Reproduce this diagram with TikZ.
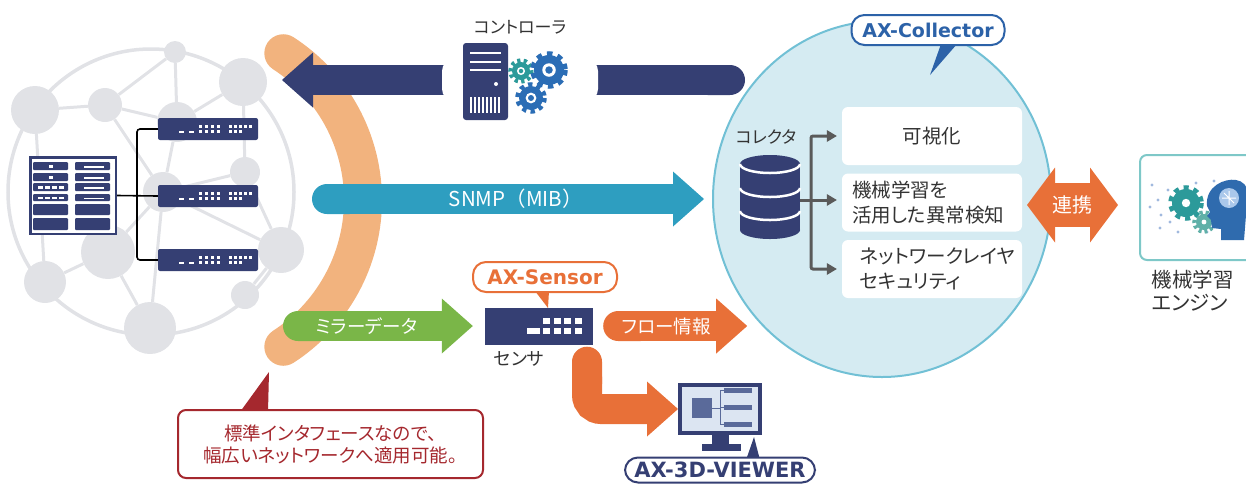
\documentclass[tikz,border=0pt]{standalone}
\usepackage{fontspec}
\setmainfont{Noto Sans CJK JP}[RawFeature=+palt]
\newfontfamily\fullwidth{Noto Sans CJK JP}
\newfontfamily\labelfont{DejaVu Sans}
\usepackage{tikz}
\usetikzlibrary{positioning,arrows.meta,shapes.geometric}

\definecolor{navy}{RGB}{53,63,115}
\definecolor{peach}{RGB}{242,179,126}
\definecolor{snmpblue}{RGB}{46,158,192}
\definecolor{mirrorgreen}{RGB}{122,182,72}
\definecolor{floworange}{RGB}{232,112,56}
\definecolor{collfill}{RGB}{213,235,242}
\definecolor{colledge}{RGB}{113,192,213}
\definecolor{axblue}{RGB}{44,98,168}
\definecolor{noticered}{RGB}{165,40,46}
\definecolor{globegray}{RGB}{225,226,230}
\definecolor{darktext}{RGB}{51,51,51}
\definecolor{wiregray}{RGB}{90,90,90}
\definecolor{gearteal}{RGB}{44,154,154}
\definecolor{gearblue}{RGB}{43,109,181}
\definecolor{gearpale}{RGB}{96,176,168}
\definecolor{enginecol}{RGB}{126,200,200}
\definecolor{screenblue}{RGB}{220,229,242}
\definecolor{minigray}{RGB}{90,106,154}
\definecolor{dotblue}{RGB}{160,185,222}
\definecolor{headblue}{RGB}{47,107,174}
\definecolor{headlight}{RGB}{170,200,235}

\newcommand{\fsz}[2]{\fontsize{#1}{#2}\selectfont}

\begin{document}
\begin{tikzpicture}[x=1pt,y=-1pt,
    blockarrow/.style={line width=30pt,{Round Cap[]}-{Triangle[width=55pt 0,length=31pt 0,line width=0pt 0]}},
    linkarrow/.style={line width=44pt,{Triangle[width=75pt 0,length=28pt 0,line width=0pt 0]}-{Triangle[width=75pt 0,length=28pt 0,line width=0pt 0]}},
    arrowtext/.style={text=white,font=\fsz{18.5}{20}},
    pill/.style={draw=#1,text=#1,fill=white,line width=2pt,rounded corners=13pt,inner sep=0pt},
    infobox/.style={fill=white,rounded corners=6pt,minimum width=180pt,minimum height=58pt,text=darktext,font=\fsz{19.5}{25}},
    dbwire/.style={wiregray,line width=3pt,rounded corners=2pt,shorten >=5pt,-{Triangle[length=10pt 0,width=12pt 0,line width=0pt 0]}},
    wire/.style={draw=black,line width=1.6pt,rounded corners=3pt},
    globenode/.style={circle,fill=globegray,inner sep=0pt},
    switchbox/.style={fill=navy,rounded corners=2pt,minimum width=100pt,minimum height=22pt,inner sep=0pt},
]
\clip (0,0) rectangle (1246,491);

\node[circle,draw=globegray,line width=3.5pt,minimum size=286pt,inner sep=0pt] (globe) at (151,192) {};
\foreach \n/\gx/\gy/\gr in {a/175/52/11,b/243/82/24,c/35/110/24,d/105/105/17,e/177/122/20,f/245/172/15,
        g/163/192/20,h/108/252/27,i/281/250/23,j/45/282/21,k/245/295/14,l/150/328/26}
    \node[globenode,minimum size=2*\gr] (\n) at (\gx,\gy) {};
\foreach \p/\q in {a/d,a/e,c/d,d/e,b/e,b/f,d/g,c/j,e/g,g/f,f/i,g/i,g/h,g/l,h/j,h/l,i/k}
    \draw[globegray,line width=3pt] (\p) -- (\q);

\node[fill=navy,minimum width=88pt,minimum height=79pt,inner sep=0pt] (rack) at (73,195.5) {};
\fill[white] (31.5,158.5) rectangle (114.5,232.5);
\foreach \sy/\sh in {162/8,173/8,183/8,194/7,204/11,218/12} {
    \fill[navy,rounded corners=1pt] (33,\sy) rectangle ++(35,\sh);
    \fill[navy,rounded corners=1pt] (75,\sy) rectangle ++(35,\sh);
}
\foreach \sy in {165,176} \fill[white] (49,\sy) rectangle ++(4,2.5);
\foreach \sy in {186,196.5} \foreach \mx in {38,45,52,59} \fill[white] (\mx,\sy) rectangle ++(5,2.5);
\foreach \sy in {166,177,187,197.5} \fill[white] (84,\sy) rectangle ++(20,1.5);

\foreach \n/\sy in {1/129,2/196,3/260} {
    \node[switchbox] (sw\n) at (208,\sy) {};
    \begin{scope}[shift={(208,\sy)}]
        \foreach \px in {-8,-2,4,10,22,27,32,37,42} \fill[white] (\px-1.5,-4.5) rectangle ++(3,3);
        \foreach \px in {-8,-2,4,10,22,27,32} \fill[white] (\px-1.5,1) rectangle ++(3,3);
        \foreach \px in {-29,-19} \fill[white] (\px,1.5) rectangle ++(5,2);
    \end{scope}
}
\coordinate (hub) at (137,196);
\draw[wire] (rack.east) -- (sw2.west);
\draw[wire] (sw1.west) -| (hub) |- (sw3.west);

\draw[peach,line width=38pt,line cap=round] (188,200) ++(-57:175) arc[start angle=-57,end angle=57,radius=175];

\node[ellipse,draw=colledge,fill=collfill,line width=2pt,minimum width=338pt,minimum height=356pt,inner sep=0pt] (collector) at (882,199) {};
\fill[axblue] (941,44) -- (957,44) -- (930,75) -- cycle;
\node[pill=axblue,minimum width=153pt,minimum height=30pt,font=\labelfont\bfseries\fsz{19}{19}] (axcoll) at (928,30) {AX-Collector};

\coordinate (ctrlend) at (745,80);
\coordinate (ctrltip) at (282,80);
\draw[blockarrow,navy] (ctrlend) -- (ctrltip);
\node[fill=white,rounded corners=12pt,minimum width=156pt,minimum height=42pt] (ctrl) at (520,80) {};
\node[text=darktext,font=\fsz{17}{18}] (ctrllbl) at (520,27) {コントローラ};
\fill[navy,rounded corners=3pt] (463,43) rectangle (508,120);
\foreach \ly in {53,61.5,70} \draw[white,line width=2pt] (470,\ly) -- (501,\ly);
\fill[white] (496,84) circle[radius=2];
\foreach \lx in {471,475,479,483,487,491,495,499} \draw[white,line width=1.5pt] (\lx,97) -- (\lx,113);
\foreach \gx/\gy/\gr/\gc in {521/71/9/gearteal,531/98/12/gearblue,549/70/15/gearblue} {
    \pgfmathsetmacro\tooth{0.36*\gr}
    \fill[\gc] (\gx,\gy) circle[radius=\gr];
    \draw[\gc,line width=4.5pt,dash pattern={on \tooth pt off \tooth pt}] (\gx,\gy) circle[radius=\gr+1.5];
    \fill[white] (\gx,\gy) circle[radius=0.45*\gr];
    \fill[\gc] (\gx,\gy) circle[radius=0.25*\gr];
}

\coordinate (snmpstart) at (312,199);
\draw[blockarrow,snmpblue] (snmpstart) -- ([xshift=-8pt]collector.west)
    node[pos=.52,text=white,font=\fullwidth\fsz{20.5}{22}] {SNMP（MIB）};

\node[text=darktext,font=\fsz{17}{18}] (colllbl) at (766,137) {コレクタ};
\node[inner sep=0pt,minimum width=60pt,minimum height=84pt] (db) at (770,200) {};
\fill[navy] (740,164) rectangle (800,230);
\fill[navy] (770,164) ellipse[x radius=30,y radius=9];
\fill[navy] (770,230) ellipse[x radius=30,y radius=9];
\foreach \ry in {164,188,211} \draw[white,line width=2.5pt] (740,\ry) arc[start angle=180,end angle=0,x radius=30,y radius=9];

\node[infobox] (vis) at (932,136) {可視化};
\node[infobox,align=left,text width=160pt,inner xsep=10pt] (anom) at (932,202.5) {機械学習を\\活用した異常検知};
\node[infobox,align=left,text width=144pt,inner xsep=18pt] (nwsec) at (932,269) {ネットワークレイヤ\\セキュリティ};
\coordinate (dbhub) at (811,200);
\draw[dbwire] (db.east) -- (db.east -| anom.west);
\draw[dbwire] (dbhub) |- (vis.west);
\draw[dbwire] (dbhub) |- (nwsec.west);

\node[draw=enginecol,line width=2pt,fill=white,rounded corners=7pt,minimum width=130pt,minimum height=105pt] (engine) at (1205,207.5) {};
\coordinate (linkl) at (1027,205);
\coordinate (linkr) at (1118,205);
\draw[linkarrow,floworange] (linkl) -- (linkr) node[midway,text=white,font=\fsz{20}{22}] {連携};
\foreach \dx/\dy in {1152/185,1158/200,1161/215,1150/207,1168/190,1170/222,1196/183,1207/232,1214/181,1178/232,1160/228}
    \fill[dotblue] (\dx,\dy) circle[radius=1.6];
\foreach \gx/\gy/\gr/\gc in {1204/222/8/gearpale,1186/203/14/gearteal} {
    \pgfmathsetmacro\tooth{0.36*\gr}
    \fill[\gc] (\gx,\gy) circle[radius=\gr];
    \draw[\gc,line width=4.5pt,dash pattern={on \tooth pt off \tooth pt}] (\gx,\gy) circle[radius=\gr+1.5];
    \fill[white] (\gx,\gy) circle[radius=0.3*\gr];
}
\fill[headblue] (1221,240) -- (1221,229) -- (1212,228) -- (1211,220) -- (1207,216) -- (1210,212) -- (1207,206)
    .. controls (1205,186) and (1225,178) .. (1236,180) .. controls (1250,182) and (1252,200) .. (1246,215) -- (1244,240) -- cycle;
\fill[headlight] (1229,198) circle[radius=10];
\draw[white,line width=1pt] (1222,198) -- (1236,198) (1229,191) -- (1229,205) (1224,193) -- (1234,203);
\node[anchor=north west,align=left,text=darktext,font=\fsz{20.5}{23}] (englbl) at (1148,267) {機械学習\\エンジン};

\node[fill=navy,minimum width=108pt,minimum height=37pt,inner sep=0pt] (sensor) at (539,326) {};
\fill[white] (527,328) rectangle (540,334);
\foreach \px in {543,553.5,564,574.5} \foreach \py in {318,328} \fill[white] (\px,\py) rectangle ++(7,6);
\node[below=3pt of sensor,xshift=-20pt,text=darktext,font=\fsz{18}{19}] (sensorlbl) {センサ};
\fill[floworange] (535,291) -- (549,291) -- (548,308) -- cycle;
\node[pill=floworange,minimum width=144pt,minimum height=30pt,font=\labelfont\bfseries\fsz{20}{20}] (axsensor) at (545,277) {AX-Sensor};

\coordinate (mirrorstart) at (283,326);
\draw[blockarrow,mirrorgreen] (mirrorstart) -- ([xshift=-12pt]sensor.west)
    node[pos=.44,arrowtext] {ミラーデータ};
\draw[blockarrow,floworange] ([xshift=10pt]sensor.east) -- ++(144,0)
    node[pos=.44,arrowtext] {フロー情報};

\node[draw=navy,line width=4pt,fill=screenblue,minimum width=80pt,minimum height=48pt,inner sep=0pt] (viewer) at (720,409) {};
\fill[minigray] (692,398) rectangle (712,418);
\draw[minigray,line width=1pt] (712,408) -- (720,408) (720,390) -- (720,424);
\foreach \by in {390,407,424} {
    \draw[minigray,line width=1pt] (720,\by) -- (724,\by);
    \fill[minigray] (724,\by-2.5) rectangle (752,\by+2.5);
}
\fill[navy] (712,433) rectangle (729,445);
\fill[navy] (702,444) rectangle (741,451);
\draw[blockarrow,floworange,rounded corners=14pt] ([xshift=48pt,yshift=-2pt]sensor.south) |- (viewer.west);
\fill[navy] (746,460) -- (760,460) -- (754,437) -- cycle;
\node[pill=navy,minimum width=190pt,minimum height=25pt,font=\labelfont\bfseries\fsz{21}{21}] (axviewer) at (720,470) {AX-3D-VIEWER};

\fill[noticered] (240,412) -- (268,412) -- (269,372) -- cycle;
\node[draw=noticered,line width=2pt,fill=white,rounded corners=8pt,minimum width=305pt,minimum height=68pt,
    align=center,text=noticered,font=\fsz{18.5}{22}] (notice) at (330.5,444) {標準インタフェースなので、\\幅広いネットワークへ適用可能。};

\end{tikzpicture}
\end{document}
